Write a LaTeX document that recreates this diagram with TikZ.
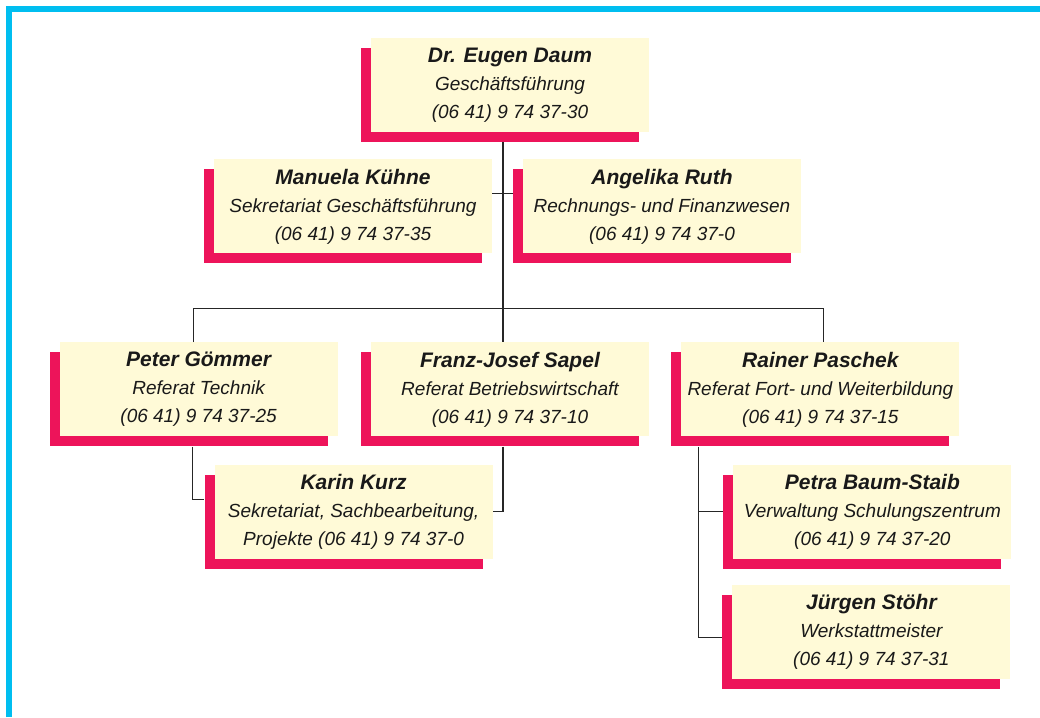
\documentclass[tikz,border=0pt]{standalone}
\usepackage{fontspec}
\setmainfont{Liberation Sans}
\usetikzlibrary{positioning,shadows}

\definecolor{cream}{RGB}{255,250,215}
\definecolor{crimson}{RGB}{237,20,90}
\definecolor{framecyan}{RGB}{0,190,240}

\newcommand{\pname}[1]{{\fontsize{21}{28}\selectfont\bfseries #1}}

\begin{document}
\begin{tikzpicture}[
    x=1pt, y=-1pt,
    node distance=27pt,
    card/.style={rectangle, fill=cream, minimum width=278pt, minimum height=94pt, inner sep=2pt, align=center, text=black!90, font=\fontsize{19}{28}\selectfont\itshape, drop shadow={shadow xshift=-10pt, shadow yshift=-10pt, fill=crimson, opacity=1}},
    link/.style={draw=black!85, line width=1.1pt},
    frame/.style={draw=framecyan, line width=6pt}
]
    \useasboundingbox (0,0) rectangle (1040,717);

    % Outer frame
    \draw[frame] (9,717) -- (9,9) -- (1040,9);

    % Management
    \node[card] (daum) at (510,85) {
        \pname{Dr. Eugen Daum} \\
        Geschäftsführung \\
        (06 41) 9 74 37-30
    };

    \node[card] (kuehne) [below=27pt of daum, xshift=-157pt] {
        \pname{Manuela Kühne} \\
        Sekretariat Geschäftsführung \\
        (06 41) 9 74 37-35
    };

    \node[card] (ruth) [below=27pt of daum, xshift=152pt] {
        \pname{Angelika Ruth} \\
        Rechnungs- und Finanzwesen \\
        (06 41) 9 74 37-0
    };

    % Departments
    \node[card] (sapel) [below=210pt of daum] {
        \pname{Franz-Josef Sapel} \\
        Referat Betriebswirtschaft \\
        (06 41) 9 74 37-10
    };

    \node[card] (goemmer) [left=33pt of sapel] {
        \pname{Peter Gömmer} \\
        Referat Technik \\
        (06 41) 9 74 37-25
    };

    \node[card] (paschek) [right=32pt of sapel] {
        \pname{Rainer Paschek} \\
        Referat Fort- und Weiterbildung \\
        (06 41) 9 74 37-15
    };

    % Staff
    \node[card] (kurz) [below=28pt of goemmer, xshift=155pt] {
        \pname{Karin Kurz} \\
        Sekretariat, Sachbearbeitung, \\
        Projekte (06 41) 9 74 37-0
    };

    \node[card] (baum) [below=28pt of paschek, xshift=52pt] {
        \pname{Petra Baum-Staib} \\
        Verwaltung Schulungszentrum \\
        (06 41) 9 74 37-20
    };

    \node[card] (stoehr) [below=26pt of baum, xshift=-1pt] {
        \pname{Jürgen Stöhr} \\
        Werkstattmeister \\
        (06 41) 9 74 37-31
    };

    % Connections
    \coordinate (trunk) at ([xshift=-7pt,yshift=-10pt]daum.south);
    \coordinate (rdrop) at ([xshift=17pt,yshift=-10pt]paschek.south west);
    \draw[link] (trunk) -- (trunk |- sapel.north);
    \draw[link] ([yshift=13pt]kuehne.east) -- ([xshift=-10pt,yshift=13pt]ruth.west);
    \draw[link] ([xshift=-5pt]goemmer.north) -- ++(0,-34) -| ([xshift=3pt]paschek.north);
    \draw[link] ([xshift=-6pt,yshift=-10pt]goemmer.south) |- ([xshift=-10pt,yshift=12pt]kurz.west);
    \draw[link] ([xshift=-7pt,yshift=-10pt]sapel.south) |- (kurz.east);
    \draw[link] (rdrop) |- ([xshift=-10pt,yshift=-5pt]stoehr.west);
    \draw[link] (rdrop |- baum.west) -- ([xshift=-10pt]baum.west);

\end{tikzpicture}
\end{document}
